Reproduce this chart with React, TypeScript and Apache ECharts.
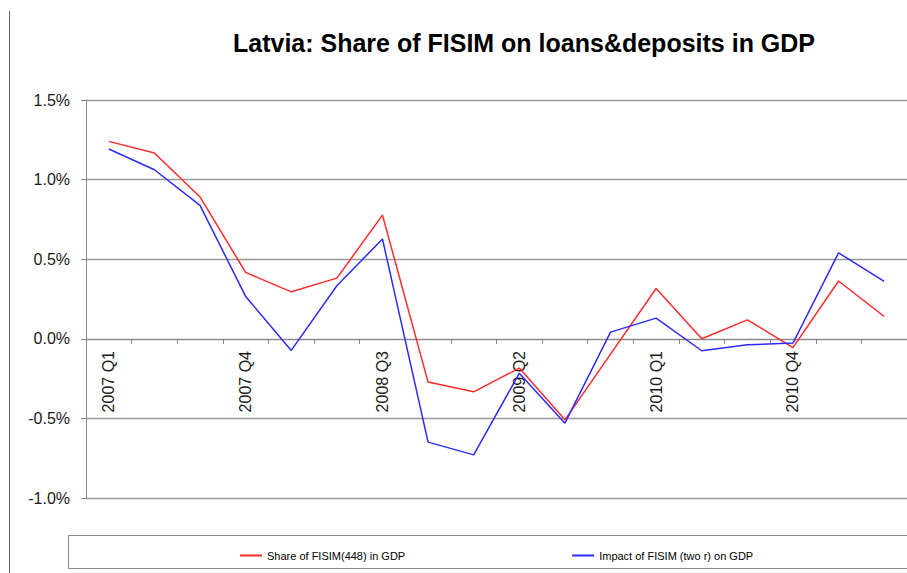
import React, { useEffect, useRef } from "react";
import * as echarts from "echarts";

const categories = [
  "2007 Q1", "2007 Q2", "2007 Q3", "2007 Q4",
  "2008 Q1", "2008 Q2", "2008 Q3", "2008 Q4",
  "2009 Q1", "2009 Q2", "2009 Q3", "2009 Q4",
  "2010 Q1", "2010 Q2", "2010 Q3", "2010 Q4",
  "2011 Q1", "2011 Q2",
];

const shareFisim448 = [
  1.24, 1.167, 0.891, 0.417, 0.295, 0.381, 0.777, -0.272, -0.333,
  -0.184, -0.509, -0.096, 0.316, 0.0, 0.119, -0.055, 0.363, 0.14,
];

const impactFisimTwoR = [
  1.192, 1.062, 0.838, 0.266, -0.073, 0.333, 0.627, -0.649, -0.729,
  -0.216, -0.53, 0.042, 0.13, -0.075, -0.038, -0.027, 0.54, 0.36,
];

const seriesNames = ["Share of FISIM(448) in GDP", "Impact of FISIM (two r) on GDP"];
const titleText = "Latvia: Share of FISIM on loans&deposits in GDP";

const FONT = "'Liberation Sans', Arial, sans-serif";

export default function App() {
  const ref = useRef<HTMLDivElement>(null);

  useEffect(() => {
    document.body.style.margin = "0";
    if (!ref.current) return;
    const chart = echarts.init(ref.current, undefined, { renderer: "svg" });
    const labelStyle = {
      fontFamily: FONT,
      fontSize: 16,
      color: "#1a1a1a",
    };
    chart.setOption({
      animation: false,
      backgroundColor: "#ffffff",
      title: {
        text: titleText,
        left: 233,
        top: 30,
        padding: 0,
        textStyle: {
          fontFamily: FONT,
          fontSize: 25,
          fontWeight: "bold",
          color: "#000000",
        },
      },
      grid: [
        { left: 86, right: -8, top: 100, bottom: 75, containLabel: false },
        // label band: same width, its bottom edge sits on the 0% line
        { left: 86, right: -8, top: 100, bottom: 234, containLabel: false },
      ],
      legend: {
        left: 240,
        top: 550,
        padding: 0,
        icon: "rect",
        itemWidth: 22,
        itemHeight: 2,
        itemGap: 167,
        textStyle: {
          fontFamily: FONT,
          fontSize: 11,
          color: "#000000",
        },
        data: seriesNames,
      },
      xAxis: [
        {
          type: "category",
          gridIndex: 0,
          data: categories,
          boundaryGap: true,
          axisLine: { onZero: true, lineStyle: { color: "#888888", width: 1 } },
          axisTick: {
            show: true,
            interval: 0,
            alignWithLabel: false,
            length: 5,
            lineStyle: { color: "#888888" },
          },
          axisLabel: { show: false },
          splitLine: { show: false },
        },
        {
          type: "category",
          gridIndex: 1,
          data: categories,
          boundaryGap: true,
          axisLine: { show: false },
          axisTick: { show: false },
          axisLabel: {
            interval: 2,
            rotate: 90,
            margin: 12,
            ...labelStyle,
          },
          splitLine: { show: false },
        },
      ],
      yAxis: [
        {
          type: "value",
          gridIndex: 0,
          min: -1,
          max: 1.5,
          interval: 0.5,
          axisLine: { show: true, lineStyle: { color: "#888888", width: 1 } },
          axisTick: { show: true, length: 5, lineStyle: { color: "#888888" } },
          axisLabel: {
            margin: 16,
            ...labelStyle,
            formatter: (v: number) => v.toFixed(1) + "%",
          },
          splitLine: { show: true, lineStyle: { color: "#999999", width: 1.3 } },
        },
        {
          type: "value",
          gridIndex: 1,
          show: false,
          min: 0,
          max: 1,
        },
      ],
      series: [
        {
          name: seriesNames[0],
          type: "line",
          data: shareFisim448,
          symbol: "none",
          color: "#ff2b2b",
          lineStyle: { color: "#ff2b2b", width: 1.5 },
        },
        {
          name: seriesNames[1],
          type: "line",
          data: impactFisimTwoR,
          symbol: "none",
          color: "#2b2bff",
          lineStyle: { color: "#2b2bff", width: 1.5 },
        },
      ],
      graphic: [
        {
          type: "line",
          shape: { x1: 9.5, y1: 11, x2: 9.5, y2: 573 },
          style: { stroke: "#666666", lineWidth: 1 },
        },
        {
          type: "rect",
          shape: { x: 68.5, y: 535.5, width: 860, height: 33 },
          style: { fill: "none", stroke: "#8a8a8a", lineWidth: 1 },
        },
      ],
    });
    return () => chart.dispose();
  }, []);

  return (
    <div
      ref={ref}
      style={{ position: "fixed", left: 0, top: 0, width: 907, height: 573 }}
    />
  );
}
